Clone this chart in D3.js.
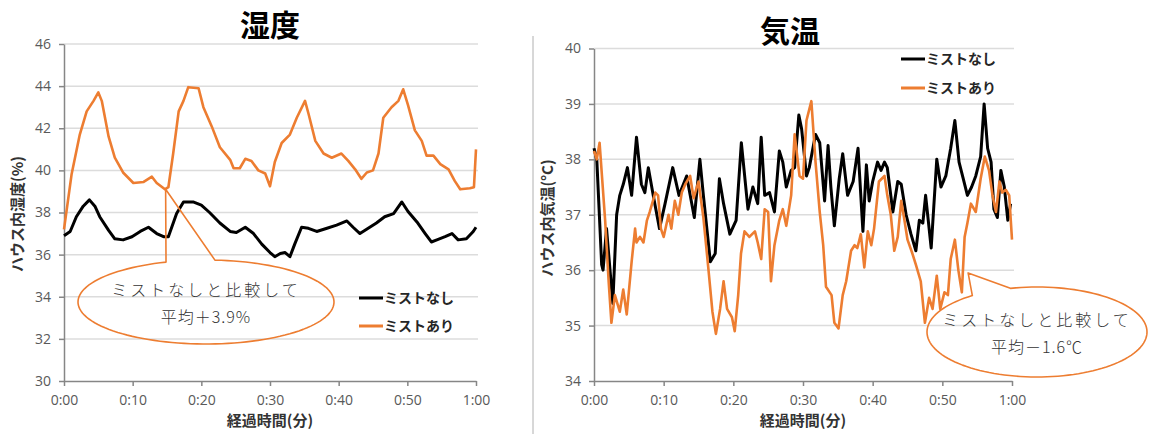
<!DOCTYPE html>
<html>
<head>
<meta charset="utf-8">
<script src="https://cdn.jsdelivr.net/npm/d3@7"></script>
<style>
  body { margin: 0; background: #fff; }
  svg { display: block; }
</style>
</head>
<body>
<div id="chart"></div>
<script>
// elapsed time in minutes
let xTickValues = [0, 10, 20, 30, 40, 50, 60];
let xTickLabels = ["0:00", "0:10", "0:20", "0:30", "0:40", "0:50", "1:00"];
let seriesNames = ["ミストなし", "ミストあり"];

// humidity (%) - without mist
let humNoneT = [0, 0.9, 1.8, 2.8, 3.7, 4.5, 5.2, 6.5, 7.4, 8.6, 9.9, 11.1, 12.3, 13.5, 14.5, 15.2, 16.4, 17.4, 18.8, 20.0,
  21.2, 22.7, 24.2, 25.1, 26.4, 27.6, 28.8, 30.0, 30.7, 31.5, 32.2, 32.9, 33.6, 34.6, 35.6, 36.8, 38.3, 39.7, 41.2, 42.1,
  43.1, 44.3, 45.5, 46.7, 48.0, 49.2, 50.1, 51.4, 52.6, 53.5, 54.3, 55.5, 56.5, 57.4, 58.6, 59.6, 60];
let humNone = [36.9, 37.1, 37.8, 38.3, 38.6, 38.3, 37.8, 37.15, 36.75, 36.7, 36.85, 37.1, 37.3, 37.0, 36.85, 36.85, 37.95, 38.5, 38.5, 38.35,
  38.0, 37.5, 37.1, 37.05, 37.3, 37.0, 36.5, 36.1, 35.9, 36.05, 36.1, 35.9, 36.5, 37.3, 37.25, 37.1, 37.25, 37.4, 37.6, 37.3,
  37.0, 37.25, 37.5, 37.8, 37.95, 38.5, 38.05, 37.55, 37.0, 36.6, 36.7, 36.85, 37.0, 36.7, 36.75, 37.1, 37.3];

// humidity (%) - with mist
let humMistT = [0, 1.1, 2.3, 3.3, 4.3, 5.0, 5.5, 6.5, 7.4, 8.6, 10.1, 11.6, 12.8, 13.5, 14.7, 15.2, 15.9, 16.7, 17.4, 18.1,
  19.6, 20.3, 21.5, 22.7, 24.2, 24.7, 25.6, 26.4, 27.3, 28.3, 29.3, 30.0, 30.7, 31.7, 32.9, 33.9, 35.1, 35.6, 36.6, 37.8,
  39.0, 40.4, 41.4, 42.4, 43.3, 44.1, 45.0, 45.8, 46.5, 47.7, 48.7, 49.4, 50.1, 51.1, 52.1, 52.8, 53.8, 54.8, 56.0, 56.9,
  57.7, 59.1, 59.7, 60];
let humMist = [37.2, 39.8, 41.7, 42.8, 43.3, 43.7, 43.3, 41.6, 40.6, 39.9, 39.4, 39.45, 39.7, 39.4, 39.1, 39.2, 40.8, 42.8, 43.3, 43.95,
  43.9, 43.0, 42.1, 41.1, 40.5, 40.1, 40.1, 40.55, 40.45, 40.0, 39.85, 39.25, 40.4, 41.3, 41.7, 42.5, 43.3, 42.7, 41.4, 40.8,
  40.6, 40.8, 40.45, 40.05, 39.6, 39.9, 40.0, 40.8, 42.5, 43.0, 43.3, 43.85, 43.1, 41.9, 41.4, 40.7, 40.7, 40.3, 40.05, 39.5,
  39.1, 39.15, 39.2, 41.0];

// temperature (C) - without mist
let tempNoneT = [0, 0.4, 1.1, 1.3, 1.8, 2.7, 3.25, 3.7, 4.2, 4.8, 5.4, 6.1, 6.8, 7.3, 7.8, 8.5, 9.4, 10.2, 11.3, 12.2,
  13.3, 14.4, 15.2, 15.7, 16.7, 17.4, 18.0, 18.6, 19.5, 20.4, 21.15, 22.1, 22.8, 23.5, 24.0, 24.5, 25.2, 25.9, 26.6, 27.1,
  27.6, 28.3, 28.8, 29.4, 29.8, 30.5, 30.9, 31.8, 32.4, 33.1, 33.6, 34.0, 34.5, 35.2, 35.7, 36.4, 37.2, 37.9, 38.6, 39.1,
  39.5, 40.0, 40.7, 41.2, 41.7, 42.1, 42.9, 43.6, 44.1, 44.8, 45.5, 46.2, 46.7, 47.2, 47.6, 48.4, 49.2, 49.8, 50.5, 51.2,
  51.8, 52.4, 53.0, 53.6, 54.2, 54.8, 55.5, 56.0, 56.5, 57.0, 57.4, 57.9, 58.4, 58.9, 59.4, 59.8];
let tempNone = [38.2, 38.0, 36.1, 36.0, 36.75, 35.4, 37.0, 37.35, 37.55, 37.85, 37.35, 38.4, 37.55, 37.4, 37.85, 37.35, 36.75, 37.2, 37.85, 37.35,
  37.7, 36.95, 38.0, 37.35, 36.15, 36.3, 37.65, 37.2, 36.65, 36.9, 38.3, 37.1, 37.5, 37.2, 38.4, 37.35, 37.4, 37.05, 38.15, 37.95,
  37.5, 37.8, 37.85, 38.8, 38.55, 37.7, 37.85, 38.45, 38.3, 37.25, 38.25, 37.5, 36.8, 37.65, 38.1, 37.35, 37.6, 38.2, 36.7, 37.9,
  37.25, 37.6, 37.95, 37.8, 37.95, 37.85, 37.05, 37.6, 37.55, 37.0, 36.65, 36.35, 36.9, 36.85, 37.35, 36.4, 38.0, 37.5, 37.7, 38.2,
  38.7, 37.95, 37.65, 37.35, 37.5, 37.7, 38.05, 39.0, 38.2, 37.95, 37.1, 36.95, 37.8, 37.5, 36.9, 37.2];

// temperature (C) - with mist
let tempMistT = [0, 0.4, 0.8, 1.6, 2.1, 2.5, 3.0, 3.7, 4.2, 4.7, 5.4, 5.9, 6.1, 6.6, 7.1, 7.6, 8.0, 8.8, 9.2, 9.6,
  10.0, 10.7, 11.1, 11.6, 12.1, 12.6, 13.1, 13.8, 14.3, 15.0, 15.7, 16.4, 17.0, 17.5, 18.1, 18.6, 19.1, 19.8, 20.2, 20.7,
  21.1, 21.6, 22.3, 23.1, 23.5, 24.0, 24.5, 25.0, 25.4, 25.9, 26.6, 27.1, 27.6, 28.3, 28.8, 29.5, 30.0, 30.5, 31.2, 31.8,
  32.4, 32.9, 33.3, 34.1, 34.5, 35.1, 35.7, 36.2, 36.9, 37.4, 37.8, 38.3, 38.8, 39.3, 39.8, 40.2, 40.9, 41.7, 42.1, 42.6,
  43.1, 43.6, 44.1, 44.5, 45.0, 45.7, 46.2, 46.9, 47.5, 48.1, 48.6, 49.2, 49.7, 50.3, 50.8, 51.2, 51.8, 52.3, 52.8, 53.2,
  53.6, 54.1, 54.8, 55.5, 56.1, 56.7, 57.2, 57.7, 58.2, 58.6, 59.1, 59.6, 60];
let tempMist = [38.15, 38.0, 38.3, 36.9, 35.8, 35.05, 35.55, 35.25, 35.65, 35.2, 36.15, 36.75, 36.5, 36.6, 36.5, 36.9, 37.05, 37.4, 37.35, 36.75,
  36.6, 37.0, 36.75, 37.25, 37.0, 37.4, 37.55, 37.7, 37.3, 37.6, 36.95, 36.05, 35.25, 34.85, 35.3, 35.8, 35.3, 35.15, 34.9, 35.55,
  36.3, 36.7, 36.6, 36.7, 36.5, 36.2, 37.1, 37.05, 35.8, 36.45, 36.9, 37.1, 36.8, 37.35, 38.45, 37.7, 37.65, 38.7, 39.05, 37.95,
  37.05, 36.45, 35.7, 35.55, 35.05, 34.95, 35.55, 35.8, 36.35, 36.45, 36.4, 36.65, 36.05, 36.7, 36.45, 36.75, 37.6, 37.7, 37.35, 37.0,
  36.35, 36.6, 37.25, 36.95, 36.55, 36.3, 36.1, 35.8, 35.05, 35.5, 35.3, 35.9, 35.3, 35.6, 35.55, 36.2, 36.55, 36.0, 35.6, 36.6,
  36.85, 37.2, 37.05, 37.65, 38.05, 37.8, 37.35, 37.05, 37.6, 37.4, 37.45, 37.35, 36.55];

let humTicks = [30, 32, 34, 36, 38, 40, 42, 44, 46];
let tempTicks = [34, 35, 36, 37, 38, 39, 40];

let colors = ["#000000", "#ED7D31"];
let jpFont = "'Noto Sans CJK JP', sans-serif";
let numFont = "'Open Sans', 'Liberation Sans', sans-serif";

let svg = d3.select("#chart").append("svg")
  .attr("width", 1149)
  .attr("height", 434);

// thin divider between the two charts
svg.append("line")
  .attr("x1", 533).attr("x2", 533)
  .attr("y1", 36).attr("y2", 434)
  .attr("stroke", "#b0b0b0").attr("stroke-width", 1);

// speech bubble: tip, then round the ellipse from angle a1 to a2 (degrees)
function bubblePoints(tip, c) {
  let pts = [tip];
  let steps = 120;
  for (let k = 0; k <= steps; k++) {
    let a = (c.a1 + (c.a2 - c.a1) * k / steps) * Math.PI / 180;
    pts.push([c.cx + c.rx * Math.cos(a), c.cy + c.ry * Math.sin(a)]);
  }
  return pts;
}

function drawPanel(p) {
  let x = d3.scaleLinear().domain([0, 60]).range([p.left, p.right]);
  let y = d3.scaleLinear().domain([p.ticks[0], p.ticks[p.ticks.length - 1]]).range([p.bottom, p.top]);
  let g = svg.append("g");

  // gridlines
  g.append("g").selectAll("line")
    .data(p.ticks.slice(1))
    .enter().append("line")
    .attr("x1", p.left).attr("x2", p.right + 2)
    .attr("y1", d => y(d)).attr("y2", d => y(d))
    .attr("stroke", "#dcdcdc").attr("stroke-width", 1.5);

  let yAxis = g.append("g")
    .attr("transform", "translate(" + p.left + ",0)")
    .call(d3.axisLeft(y).tickValues(p.ticks).tickSize(5).tickPadding(8).tickSizeOuter(0)
      .tickFormat(d3.format("d")));
  let xAxis = g.append("g")
    .attr("transform", "translate(0," + p.bottom + ")")
    .call(d3.axisBottom(x).tickValues(xTickValues).tickSize(5).tickPadding(9).tickSizeOuter(0)
      .tickFormat((d, i) => xTickLabels[i]));

  [yAxis, xAxis].forEach(a => {
    a.select(".domain").attr("stroke", "#868686").attr("stroke-width", 1.5);
    a.selectAll(".tick line").attr("stroke", "#868686").attr("stroke-width", 1.5);
    a.selectAll(".tick text")
      .attr("fill", "#595959")
      .style("font-family", numFont)
      .style("font-size", "14px");
  });

  // series lines
  let line = d3.line().x(d => x(d[0])).y(d => y(d[1]));
  p.series.forEach((s, i) => {
    g.append("path")
      .datum(d3.zip(s.t, s.v))
      .attr("fill", "none")
      .attr("stroke", colors[i])
      .attr("stroke-width", i === 0 ? 3 : 2.6)
      .attr("stroke-linejoin", "round")
      .attr("d", line);
  });

  // titles
  g.append("text")
    .attr("x", p.titleX).attr("y", p.titleY)
    .attr("text-anchor", "middle")
    .style("font-family", jpFont).style("font-weight", "bold").style("font-size", "30px")
    .text(p.title);

  g.append("text")
    .attr("transform", "translate(" + p.yTitleX + "," + p.yTitleY + ") rotate(-90)")
    .attr("text-anchor", "middle")
    .attr("dy", "0.35em")
    .attr("fill", "#333")
    .style("font-family", jpFont).style("font-weight", "bold").style("font-size", "15px")
    .text(p.yTitle);

  g.append("text")
    .attr("x", (p.left + p.right) / 2).attr("y", 421)
    .attr("text-anchor", "middle")
    .attr("dy", "0.35em")
    .attr("fill", "#333")
    .style("font-family", jpFont).style("font-weight", "bold").style("font-size", "15px")
    .text("経過時間(分)");

  // legend
  let lg = g.append("g").selectAll("g")
    .data(seriesNames)
    .enter().append("g")
    .attr("transform", (d, i) => "translate(" + p.legendX + "," + (p.legendY + i * p.legendGap) + ")");
  lg.append("line")
    .attr("x1", 0).attr("x2", 24)
    .attr("stroke", (d, i) => colors[i])
    .attr("stroke-width", 3);
  lg.append("text")
    .attr("x", 25).attr("dy", "0.35em")
    .attr("fill", "#262626")
    .style("font-family", jpFont).style("font-weight", "bold").style("font-size", "14px")
    .text(d => d);

  // callout bubble
  let c = p.callout;
  let tip = [x(c.tip[0]), y(c.tip[1])];
  g.append("path")
    .datum(bubblePoints(tip, c))
    .attr("d", d3.line().curve(d3.curveLinearClosed))
    .attr("fill", "none")
    .attr("stroke", colors[1])
    .attr("stroke-width", 1.6)
    .attr("stroke-linejoin", "round");
  c.lines.forEach((t, i) => {
    g.append("text")
      .attr("x", c.cx).attr("y", c.cy + (i === 0 ? -12 : 15))
      .attr("text-anchor", "middle")
      .attr("dy", "0.35em")
      .attr("fill", "#333")
      .style("font-family", jpFont).style("font-weight", 300).style("font-size", "16px")
      .style("letter-spacing", i === 0 ? "3px" : "1px")
      .text(t);
  });
}

drawPanel({
  left: 64, right: 476, top: 44, bottom: 381,
  ticks: humTicks,
  title: "湿度", titleX: 270, titleY: 36,
  yTitle: "ハウス内湿度(%)", yTitleX: 18, yTitleY: 214,
  legendX: 359, legendY: 298, legendGap: 28,
  series: [{ t: humNoneT, v: humNone }, { t: humMistT, v: humMist }],
  callout: {
    tip: [14.8, 39.1], cx: 206, cy: 302, rx: 128, ry: 42,
    a1: -108.2, a2: -446, lines: ["ミストなしと比較して", "平均＋3.9%"]
  }
});

drawPanel({
  left: 594, right: 1012, top: 48.5, bottom: 381,
  ticks: tempTicks,
  title: "気温", titleX: 790, titleY: 42,
  yTitle: "ハウス内気温(°C)", yTitleX: 548, yTitleY: 218,
  legendX: 901, legendY: 59, legendGap: 29,
  series: [{ t: tempNoneT, v: tempNone }, { t: tempMistT, v: tempMist }],
  callout: {
    tip: [53.7, 35.95], cx: 1037, cy: 332, rx: 110, ry: 45,
    a1: -126, a2: -464, lines: ["ミストなしと比較して", "平均－1.6℃"]
  }
});
</script>
</body>
</html>
